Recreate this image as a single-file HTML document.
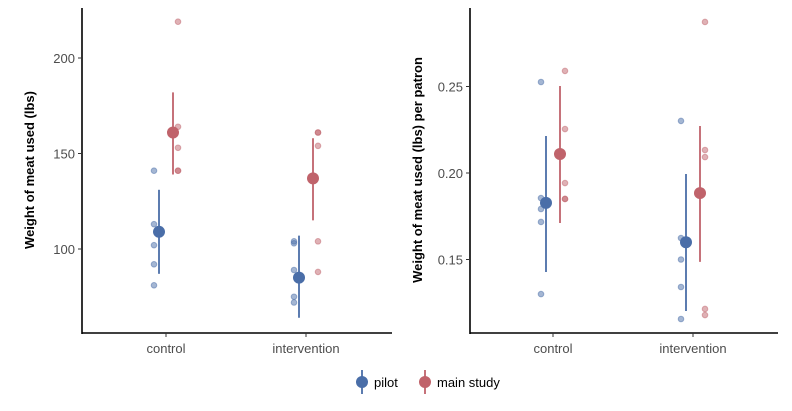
<!DOCTYPE html>
<html><head><meta charset="utf-8"><style>
body{margin:0;background:#fff;}
svg text{font-family:"Liberation Sans",sans-serif;}
</style></head><body>
<svg id="c" width="792" height="406"></svg>
<script>
const categories=["control","intervention"];
const groups=["pilot","main study"];
// left panel: total meat
const L_means=[[109,85],[161,137]];
const L_lo=[[87,64],[139,115]];
const L_hi=[[131,107],[182,158]];
const L_points=[[[141,113,102,92,81],[104,103,89,75,72]],[[219,164,153,141,141],[161,161,154,104,88]]];
const L_ticks=[100,150,200];
// right panel: per patron
const R_means=[[0.1827,0.160],[0.211,0.1884]];
const R_lo=[[0.1428,0.1202],[0.1711,0.1486]];
const R_hi=[[0.2214,0.1994],[0.2503,0.2272]];
const R_points=[[[0.2526,0.1855,0.1792,0.1717,0.130],[0.2301,0.1624,0.150,0.1341,0.1156]],[[0.259,0.2254,0.1942,0.185,0.185],[0.2873,0.2133,0.2092,0.1214,0.1179]]];
const R_ticks=[0.15,0.20,0.25];
const tickFmt=[v=>String(v),v=>v.toFixed(2)];
const colors=["#4a6ea8","#c0636b"];
const svg=document.getElementById('c');
const NS="http://www.w3.org/2000/svg";
function el(t,a,p){const e=document.createElementNS(NS,t);for(const k in a)e.setAttribute(k,a[k]);(p||svg).appendChild(e);return e;}
function panel(x0,x1,yScale,means,lo,hi,pts,ticks,fmt,title,catX,name){
  const g=el('g',{});
  
  
  const ax=el('line',{x1:x0,y1:8,x2:x0,y2:334,stroke:'#000','stroke-width':1.6},g);
  
  const bx=el('line',{x1:x0,y1:333,x2:x1,y2:333,stroke:'#000','stroke-width':1.6},g);
  
  ticks.forEach(t=>{const y=yScale(t);
    el('line',{x1:x0-4,y1:y,x2:x0,y2:y,stroke:'#333'},g);
    const tx=el('text',{x:x0-7,y:y+5,'text-anchor':'end','font-size':13,fill:'#4d4d4d'},g);tx.textContent=fmt(t);
    });
  categories.forEach((c,i)=>{const x=catX(i);
    el('line',{x1:x,y1:333,x2:x,y2:337,stroke:'#333'},g);
    const tx=el('text',{x:x,y:353,'text-anchor':'middle','font-size':13,fill:'#4d4d4d'},g);tx.textContent=c;
    
    groups.forEach((gr,s)=>{const off=s?7:-7,poff=s?12:-12;
      pts[s][i].forEach(v=>{const p=el('circle',{cx:x+poff,cy:yScale(v),r:2.8,fill:colors[s],'fill-opacity':0.5,stroke:colors[s],'stroke-opacity':0.5},g);
        });
      const er=el('line',{x1:x+off,x2:x+off,y1:yScale(lo[s][i]),y2:yScale(hi[s][i]),stroke:colors[s],'stroke-width':1.8},g);
      
      const m=el('circle',{cx:x+off,cy:yScale(means[s][i]),r:6,fill:colors[s]},g);
      
    });
  });
  const tt=el('text',{transform:`translate(${x0-48},170) rotate(-90)`,'text-anchor':'middle','font-size':13,'font-weight':'bold',fill:'#000'},g);
  tt.textContent=title;
}
panel(82,392,v=>249-(v-100)*1.91,L_means,L_lo,L_hi,L_points,L_ticks,tickFmt[0],"Weight of meat used (lbs)",i=>166+i*140,'panel-total');
panel(470,778,v=>173-(v-0.2)*1730,R_means,R_lo,R_hi,R_points,R_ticks,tickFmt[1],"Weight of meat used (lbs) per patron",i=>553+i*140,'panel-per-patron');
// legend
const lg=el('g',{});
[[362,"pilot"],[425,"main study"]].forEach(([x,l],s)=>{
  const e=el('g',{},lg);
  el('line',{x1:x,x2:x,y1:370,y2:394,stroke:colors[s],'stroke-width':1.8},e);
  el('circle',{cx:x,cy:382,r:6,fill:colors[s]},e);
  const t=el('text',{x:x+12,y:387,'font-size':13,fill:'#000'},e);t.textContent=l;
});
</script>
</body></html>
